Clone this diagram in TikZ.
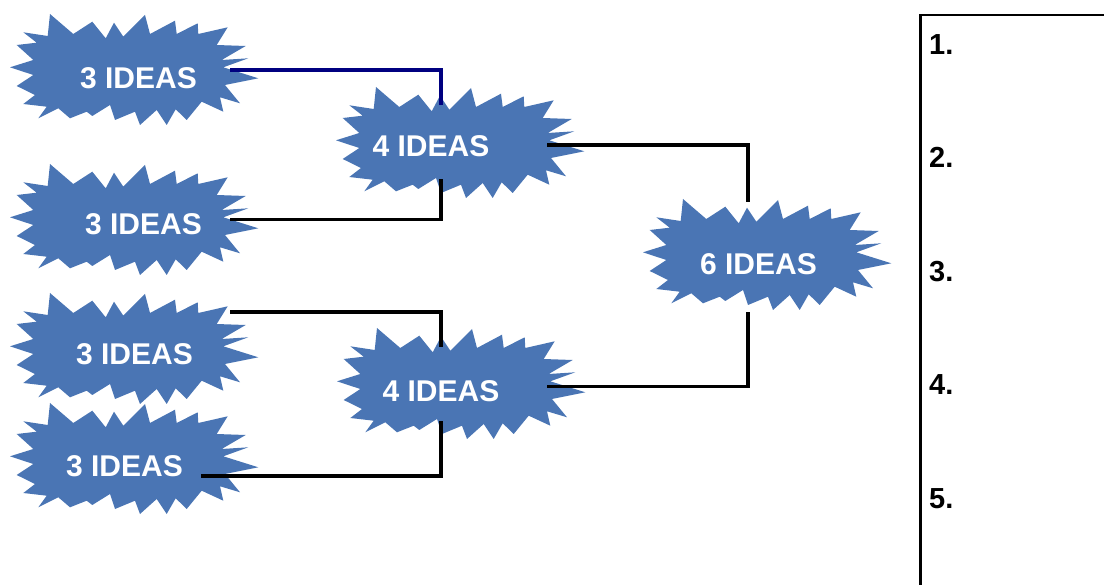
\documentclass[tikz,border=0pt]{standalone}
\usepackage{fontspec}
\setmainfont{Liberation Sans}
\definecolor{burstblue}{HTML}{4A75B4}
\definecolor{navyline}{HTML}{000080}
\tikzset{
  burstfill/.style={fill=burstblue},
  burstpic/.pic={\fill[burstfill] (50,14) -- (73.3,34) -- (92.3,21.7) -- (105.7,38.3) -- (114,22.7) -- (123.3,36.7) -- (145,15) -- (150,34) -- (175,20.7) -- (176.7,34) -- (197.7,23.3) -- (198.3,34) -- (227.7,27.3) -- (216.7,45) -- (245.7,46) -- (221.7,60) -- (248.3,58.3) -- (223.3,67.3) -- (258.3,78.3) -- (225,85) -- (240,103.3) -- (220,97.3) -- (223.3,111.7) -- (201.7,101.7) -- (186.7,120) -- (175.7,109.3) -- (166.7,125) -- (156.7,110) -- (140,125) -- (135,111.7) -- (115,120) -- (110,105) -- (92.3,116) -- (86.7,111.7) -- (70,118.3) -- (58.3,108.3) -- (38.3,118.3) -- (46.7,106.7) -- (23.3,104) -- (35,95) -- (16.7,86) -- (33.3,75) -- (10,67.3) -- (33.3,60) -- (16.7,45) -- (36.7,42.7) -- (23.3,32.3) -- (47.7,36) -- cycle;},
  idea/.style={text=white, font=\bfseries\fontsize{30}{30}\selectfont, inner sep=0pt},
  link/.style={line width=3.2pt, black},
  navylink/.style={line width=3.2pt, navyline},
  numlabel/.style={font=\bfseries\fontsize{29}{29}\selectfont, anchor=base west, inner sep=0pt},
  boxline/.style={line width=2.7pt, black}
}
\begin{document}
\begin{tikzpicture}[x=1pt,y=-1pt]
\useasboundingbox (0,0) rectangle (1104,585);
% bursts
\pic at (0,0) {burstpic};
\pic at (0,150) {burstpic};
\pic at (0,279) {burstpic};
\pic at (0,389) {burstpic};
\pic at (326,73) {burstpic};
\pic at (327,314) {burstpic};
\pic at (633,185) {burstpic};
% labels
\node[idea] (a) at (138.5,78) {3 IDEAS};
\node[idea] (b) at (143.5,224.5) {3 IDEAS};
\node[idea] (e) at (134.5,354.5) {3 IDEAS};
\node[idea] (f) at (124.5,466) {3 IDEAS};
\node[idea] (c) at (431,146) {4 IDEAS};
\node[idea] (g) at (441,391.5) {4 IDEAS};
\node[idea] (d) at (758.5,264) {6 IDEAS};
% connector ends
\coordinate (aout) at (230,70);
\coordinate (bout) at (230,219.5);
\coordinate (eout) at (230,312);
\coordinate (fout) at (201,476);
\coordinate (cin1) at (441,105);
\coordinate (cin2) at (441,179);
\coordinate (gin1) at (441,347);
\coordinate (gin2) at (441,421);
\coordinate (cout) at (547,145);
\coordinate (gout) at (547,386.5);
\coordinate (din1) at (748,202);
\coordinate (din2) at (748,312);
% connectors
\draw[navylink] (aout) -| (cin1);
\draw[link] (bout) -| (cin2);
\draw[link] (eout) -| (gin1);
\draw[link] (fout) -| (gin2);
\draw[link] (cout) -| (din1);
\draw[link] (gout) -| (din2);
% list box
\draw[boxline] (920.5,586) -- (920.5,15) -- (1105,15);
\node[numlabel] (n1) at (929,55) {1.};
\node[numlabel] (n2) at (929,168) {2.};
\node[numlabel] (n3) at (929,282) {3.};
\node[numlabel] (n4) at (929,395) {4.};
\node[numlabel] (n5) at (929,508) {5.};
\end{tikzpicture}
\end{document}
